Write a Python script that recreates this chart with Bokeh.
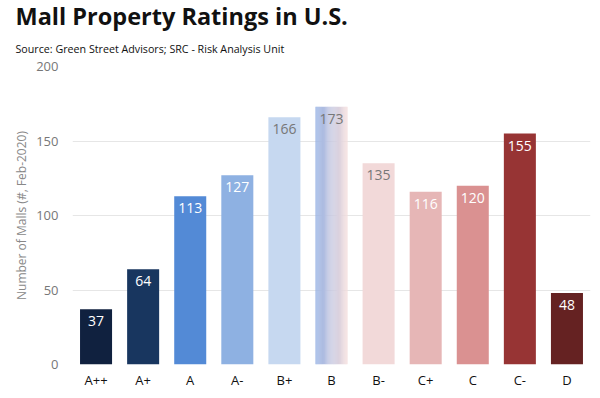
from bokeh.plotting import figure
from bokeh.models import ColumnDataSource, FixedTicker, Range1d, Title
from bokeh.embed import file_html
from bokeh.resources import INLINE
from bokeh.core.properties import value

categories = ["A++", "A+", "A", "A-", "B+", "B", "B-", "C+", "C", "C-", "D"]
counts = [37, 64, 113, 127, 166, 173, 135, 116, 120, 155, 48]
bar_colors = ["#10213f", "#18365f", "#538ad6", "#8eb1e2", "#c6d8f0", None,
              "#f2d9d9", "#e6b6b6", "#da9191", "#973434", "#652222"]
label_colors = ["white", "white", "white", "white", "#777777", "#777777",
                "#777777", "white", "white", "white", "white"]
y_ticks = [0, 50, 100, 150, 200]

FONT = "Open Sans"

p = figure(width=600, height=398, output_backend="svg", toolbar_location=None,
           x_range=Range1d(-0.5, len(categories) - 0.5), y_range=Range1d(0, 200),
           min_border_left=72, min_border_right=10, min_border_top=66, min_border_bottom=34)
p.title = None
p.outline_line_color = None
p.background_fill_color = "white"
p.border_fill_color = "white"

idx = list(range(len(categories)))
solid = [i for i in idx if bar_colors[i] is not None]
src = ColumnDataSource(dict(x=[idx[i] for i in solid], top=[counts[i] for i in solid],
                            color=[bar_colors[i] for i in solid]))
bar_w = 0.68
p.vbar(x="x", top="top", width=bar_w, fill_color="color", line_color=None, source=src)

# gradient bar (B)
gi = categories.index("B")
n = 30
c0 = (0x98, 0xb2, 0xe3)
c1 = (0xf3, 0xdd, 0xdd)
gx, gtop, gcol = [], [], []
for k in range(n):
    t = k / (n - 1)
    col = tuple(int(round(c0[j] + (c1[j] - c0[j]) * t)) for j in range(3))
    gx.append(gi - bar_w / 2 + (k + 0.5) * bar_w / n)
    gtop.append(counts[gi])
    gcol.append("#%02x%02x%02x" % col)
p.vbar(x=gx, top=gtop, width=bar_w / n * 1.05, fill_color=gcol, line_color=None)

lsrc = ColumnDataSource(dict(x=idx, y=counts, text=[str(c) for c in counts], color=label_colors))
p.text(x="x", y="y", text="text", source=lsrc, text_color="color", text_align="center",
       text_baseline="top", y_offset=7, text_font=value(FONT), text_font_size="14px")

# axes
p.xaxis.ticker = FixedTicker(ticks=idx)
p.xaxis.major_label_overrides = {i: c for i, c in enumerate(categories)}
p.xaxis.axis_line_color = None
p.xaxis.major_tick_line_color = None
p.xaxis.major_tick_out = 0
p.xaxis.major_tick_in = 0
p.xaxis.minor_tick_line_color = None
p.xaxis.major_label_text_font = FONT
p.xaxis.major_label_text_font_size = "13px"
p.xaxis.major_label_text_color = "#111111"
p.xaxis.major_label_standoff = 6

p.yaxis.ticker = FixedTicker(ticks=y_ticks)
p.yaxis.axis_line_color = None
p.yaxis.major_tick_line_color = None
p.yaxis.major_tick_out = 0
p.yaxis.major_tick_in = 0
p.yaxis.minor_tick_line_color = None
p.yaxis.major_label_text_font = FONT
p.yaxis.major_label_text_font_size = "13px"
p.yaxis.major_label_text_color = "#777777"
p.yaxis.major_label_standoff = 14
p.yaxis.axis_label = "Number of Malls (#, Feb-2020)"
p.yaxis.axis_label_text_font = FONT
p.yaxis.axis_label_text_font_size = "12px"
p.yaxis.axis_label_text_font_style = "normal"
p.yaxis.axis_label_text_color = "#888888"
p.yaxis.axis_label_standoff = 3

p.xgrid.grid_line_color = None
p.ygrid.grid_line_color = "#e6e6e6"

p.add_layout(Title(text="Source: Green Street Advisors; SRC - Risk Analysis Unit",
                   text_font=FONT, text_font_size="10.7px", text_font_style="normal",
                   text_color="#111111", offset=-57, standoff=22), "above")
p.add_layout(Title(text="Mall Property Ratings in U.S.", text_font=FONT,
                   text_font_size="23.5px", text_font_style="bold", text_color="#111111",
                   offset=-57, standoff=-6), "above")

open("out.html", "w").write(file_html(p, INLINE))
